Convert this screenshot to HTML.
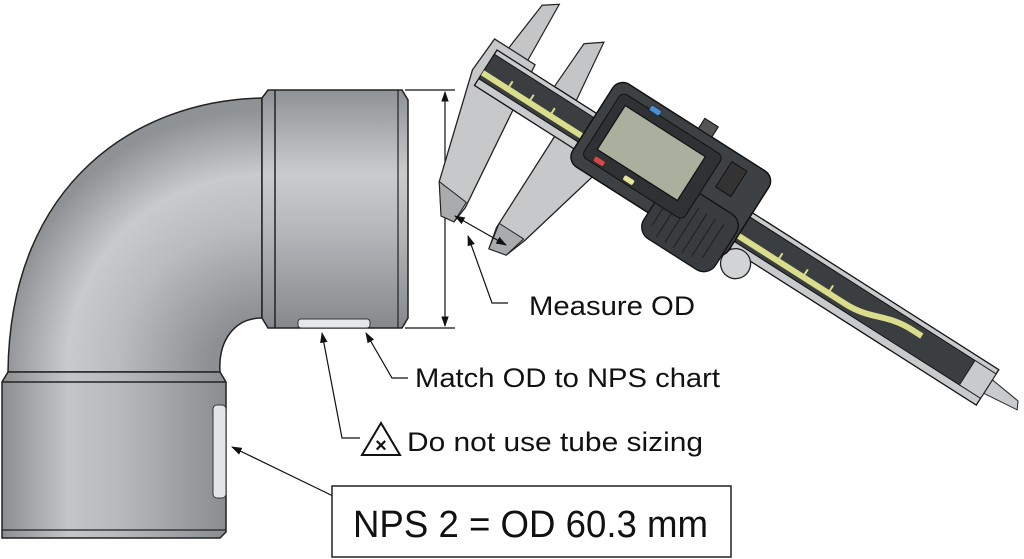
<!DOCTYPE html>
<html><head><meta charset="utf-8"><style>
html,body{margin:0;padding:0;background:#fff;width:1024px;height:559px;overflow:hidden;}
svg{display:block;}
text{font-family:"Liberation Sans",sans-serif;fill:#111;}
</style></head><body>
<svg width="1024" height="559" viewBox="0 0 1024 559" xmlns="http://www.w3.org/2000/svg">
<defs>
<linearGradient id="gv" x1="0" y1="0" x2="0" y2="1">
<stop offset="0" stop-color="#8f9295"/><stop offset="0.35" stop-color="#c9cbcd"/><stop offset="0.6" stop-color="#b4b6b8"/><stop offset="1" stop-color="#86898c"/>
</linearGradient>
<linearGradient id="gh" x1="0" y1="0" x2="1" y2="0">
<stop offset="0" stop-color="#8c8f92"/><stop offset="0.3" stop-color="#c3c5c7"/><stop offset="0.55" stop-color="#b5b7b9"/><stop offset="1" stop-color="#8a8d90"/>
</linearGradient>
<radialGradient id="gb" cx="262" cy="370" r="260" gradientUnits="userSpaceOnUse">
<stop offset="0.2" stop-color="#8d9093"/><stop offset="0.55" stop-color="#b9bbbd"/><stop offset="0.75" stop-color="#c8cacc"/><stop offset="1" stop-color="#8f9295"/>
</radialGradient>
<marker id="ar" viewBox="0 0 10 10" refX="9" refY="5" markerWidth="9" markerHeight="9" orient="auto-start-reverse"><path d="M0,1.5 L10,5 L0,8.5 Z" fill="#111"/></marker>
</defs>

<path d="M262,98 C140,100 10,180 8,372 L220,372 C218,340 235,318 262,318 Z" fill="url(#gb)" stroke="#222" stroke-width="1.5"/>
<path d="M262,98 L268,90 L402,90 L408,100 L408,318 L402,328 L268,328 L262,318 Z" fill="url(#gv)" stroke="#222" stroke-width="1.5"/>
<line x1="275" y1="90" x2="275" y2="328" stroke="#222" stroke-width="1.5"/>
<line x1="398" y1="90" x2="398" y2="328" stroke="#222" stroke-width="1.2"/>
<rect x="298" y="319" width="72" height="9" rx="3" fill="#e6e7e8" stroke="#333" stroke-width="1"/>
<path d="M8,372 L220,372 L226,382 L226,532 L220,538 L2,538 L2,382 Z" fill="url(#gh)" stroke="#222" stroke-width="1.5"/>
<line x1="2" y1="382" x2="226" y2="382" stroke="#222" stroke-width="1.5"/>
<line x1="2" y1="530" x2="226" y2="530" stroke="#222" stroke-width="1.2"/>
<rect x="213" y="405" width="13" height="93" rx="4" fill="#e4e5e6" stroke="#333" stroke-width="1"/>

<line x1="405" y1="90" x2="455" y2="90" stroke="#111" stroke-width="1.2"/>
<line x1="405" y1="328" x2="455" y2="328" stroke="#111" stroke-width="1.2"/>
<line x1="445" y1="92" x2="445" y2="326" stroke="#111" stroke-width="1.2" marker-start="url(#ar)" marker-end="url(#ar)"/>

<g transform="translate(497,50) rotate(32.5)">
  <polygon points="8,0 14,-62 28,-72 32,0" fill="#c4c5c6" stroke="#222" stroke-width="1.2"/>
  <polygon points="68,0 70,-52 86,-64 94,0" fill="#c4c5c6" stroke="#222" stroke-width="1.2"/>
  <polygon points="-8,-8 40,-8 58,150 56,168 42,170 22,142 -10,30" fill="#c7c8c9" stroke="#222" stroke-width="1.3"/>
  <polygon points="22,142 42,170 56,168 56,145" fill="#a9abad" stroke="#222" stroke-width="1"/>
  <polygon points="595,12 628,16 632,24 595,28" fill="#c9cacb" stroke="#222" stroke-width="1"/>
  <rect x="0" y="0" width="595" height="42" fill="#c9cacb" stroke="#111" stroke-width="1.3"/>
  <rect x="0" y="5" width="570" height="29" fill="#3b3e40" stroke="#111" stroke-width="1"/>
  <path d="M0,27 L430,27 C460,27 470,13 500,13 L512,13" stroke="#d9dd8c" stroke-width="6" fill="none"/>
  <g stroke="#d9dd8c" stroke-width="2">
    <line x1="30" y1="18" x2="30" y2="25"/><line x1="55" y1="18" x2="55" y2="25"/><line x1="80" y1="18" x2="80" y2="25"/>
    <line x1="350" y1="18" x2="350" y2="25"/><line x1="380" y1="18" x2="380" y2="25"/><line x1="410" y1="18" x2="410" y2="25"/>
  </g>
  <rect x="570" y="5" width="25" height="29" fill="#c9cacb" stroke="#222" stroke-width="1"/>
  <polygon points="95,42 152,42 126,145 118,168 100,172 95,150" fill="#c7c8c9" stroke="#222" stroke-width="1.3"/>
  <polygon points="95,145 100,172 118,168 124,145" fill="#a9abad" stroke="#222" stroke-width="1"/>
  <circle cx="316" cy="52" r="15" fill="#d2d3d4" stroke="#222" stroke-width="1.3"/>
  <rect x="118" y="-42" width="185" height="98" rx="12" fill="#3e4143" stroke="#111" stroke-width="1.5"/>
  <rect x="215" y="12" width="85" height="66" rx="14" fill="#393c3e" stroke="#111" stroke-width="1.3"/>
  <g stroke="#222" stroke-width="1.2"><line x1="225" y1="25" x2="225" y2="65"/><line x1="235" y1="25" x2="235" y2="72"/><line x1="245" y1="25" x2="245" y2="72"/><line x1="255" y1="25" x2="255" y2="72"/><line x1="265" y1="25" x2="265" y2="72"/><line x1="275" y1="25" x2="275" y2="70"/><line x1="285" y1="25" x2="285" y2="65"/></g>
  <rect x="128" y="-32" width="120" height="76" rx="6" fill="#2f3234" stroke="#111" stroke-width="1"/>
  <rect x="138" y="-22" width="95" height="52" fill="#a9b09d" stroke="#111" stroke-width="1.2"/>
  <rect x="258" y="-32" width="18" height="30" fill="#333" stroke="#111"/>
  <rect x="212" y="-54" width="16" height="12" fill="#555" stroke="#111"/>
  <rect x="160" y="-37" width="12" height="6" rx="2" fill="#4b8fd6" stroke="#222" stroke-width="0.6"/>
  <rect x="140" y="36" width="12" height="6" rx="2" fill="#d14a4a" stroke="#222" stroke-width="0.6"/>
  <rect x="175" y="36" width="12" height="6" rx="2" fill="#e6e39a" stroke="#222" stroke-width="0.6"/>
</g>

<polyline points="508,303 492,303 468,236" fill="none" stroke="#111" stroke-width="1.2" marker-end="url(#ar)"/>
<line x1="455" y1="216" x2="506" y2="245" stroke="#111" stroke-width="1.2" marker-start="url(#ar)" marker-end="url(#ar)"/>
<polyline points="408,378 392,378 366,333" fill="none" stroke="#111" stroke-width="1.2" marker-end="url(#ar)"/>
<polyline points="360,438 342,438 322,333" fill="none" stroke="#111" stroke-width="1.2" marker-end="url(#ar)"/>
<line x1="333" y1="496" x2="232" y2="447" stroke="#111" stroke-width="1.2" marker-end="url(#ar)"/>

<text x="529" y="315" font-size="27" textLength="166" lengthAdjust="spacingAndGlyphs">Measure OD</text>
<text x="415" y="387" font-size="27" textLength="305" lengthAdjust="spacingAndGlyphs">Match OD to NPS chart</text>
<polygon points="381,423 362,455 400,455" fill="#fff" stroke="#111" stroke-width="2"/>
<text x="381" y="452" font-size="20" text-anchor="middle" font-weight="bold">×</text>
<text x="407" y="451" font-size="27" textLength="296" lengthAdjust="spacingAndGlyphs">Do not use tube sizing</text>
<rect x="332" y="486" width="399" height="71" fill="#fff" stroke="#222" stroke-width="1.5"/>
<text x="353" y="537" font-size="38" textLength="355" lengthAdjust="spacingAndGlyphs">NPS 2 = OD 60.3 mm</text>
</svg>
</body></html>
